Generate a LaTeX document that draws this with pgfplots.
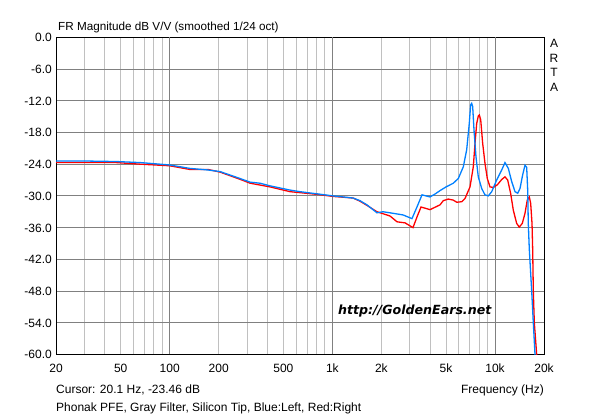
\documentclass[border=0pt]{standalone}
\usepackage{fontspec}
\setmainfont{Liberation Sans}
\newfontfamily\wmfont{DejaVu Sans}
\usepackage{pgfplots}
\usepackage{pgfplotstable}
\pgfplotsset{compat=1.18}
\definecolor{gridlight}{RGB}{192,192,192}
\definecolor{griddark}{RGB}{128,128,128}
\definecolor{artablue}{RGB}{0,128,255}
\definecolor{artared}{RGB}{255,0,0}

\pgfplotstableread{
f dB
20 -23.4
30 -23.4
47 -23.5
66 -23.7
100 -24.15
133 -24.8
172 -25.1
204 -25.4
270 -26.7
312 -27.4
359 -27.6
414 -28.1
549 -28.9
632 -29.2
800 -29.6
1009 -30.0
1339 -30.4
1478 -30.9
1633 -31.7
1880 -33.2
2048 -33.0
2261 -33.2
2718 -33.6
3086 -34.3
3312 -32.1
3557 -29.8
3982 -30.2
4300 -29.6
4589 -29.0
5000 -28.3
5539 -27.6
5949 -26.7
6381 -24.5
6693 -21.3
6944 -16.3
7080 -12.8
7184 -12.5
7287 -13.1
7424 -17.5
7638 -22.6
7890 -26.4
8280 -28.6
8670 -29.8
9090 -30.0
9540 -29.2
10230 -27.0
10990 -25.1
11510 -23.7
12070 -24.8
12660 -27.3
13270 -29.2
13780 -29.5
14240 -28.6
14790 -26.0
15280 -24.2
15650 -24.6
15880 -28.9
16010 -35.2
16250 -40.2
16800 -48
17190 -54
17610 -60
17700 -61
}\leftch

\pgfplotstableread{
f dB
20 -23.7
47 -23.7
66 -24.0
100 -24.3
133 -25.0
172 -25.0
204 -25.5
270 -26.85
312 -27.6
414 -28.3
549 -29.2
800 -29.7
1009 -30.1
1339 -30.4
1478 -31.0
1633 -31.8
1880 -33.0
2261 -33.8
2497 -34.9
2796 -35.1
3130 -36.0
3312 -34.0
3507 -32.1
3982 -32.6
4589 -31.7
4808 -30.9
5160 -30.6
5539 -30.8
5814 -31.2
6238 -31.1
6537 -30.5
7015 -28.3
7352 -24.5
7531 -20.1
7714 -16.3
7890 -14.9
8004 -14.7
8164 -15.6
8397 -20.1
8670 -23.8
8962 -26.7
9311 -28.3
9757 -28.4
10330 -27.9
10990 -26.9
11510 -26.4
11960 -27.0
12470 -29.5
12950 -32.7
13580 -35.2
14090 -35.9
14710 -35.2
15280 -33.3
15780 -30.8
16250 -30.2
16560 -31.4
16880 -35.2
17040 -40.2
17190 -48
17440 -54
18030 -60
18100 -61
}\rightch

\begin{document}
\fontsize{12}{14}\selectfont
\begin{tikzpicture}[x=1pt,y=1pt]
\path[use as bounding box] (0,0) rectangle (600,419);
\begin{axis}[
  at={(56pt,64.5pt)}, anchor=south west,
  scale only axis, width=488pt, height=317.2pt,
  xmode=log, xmin=20, xmax=20000, ymin=-60, ymax=0,
  xtick={20,50,200,500,2000,5000,20000},
  xticklabels={20,50,200,500,2k,5k,20k},
  minor xtick={30,40,60,70,80,90,300,400,600,700,800,900,3000,4000,6000,7000,8000,9000},
  extra x ticks={100,1000,10000},
  extra x tick labels={100,1k,10k},
  extra x tick style={grid style={griddark, line width=1pt}, every axis x grid/.style={griddark}},
  xmajorgrids, xminorgrids, ymajorgrids,
  grid style={gridlight, line width=1pt},
  every axis y grid/.style={griddark},
  ytick={-60,-54,-48,-42,-36,-30,-24,-18,-12,-6,0},
  yticklabels={-60.0,-54.0,-48.0,-42.0,-36.0,-30.0,-24.0,-18.0,-12.0,-6.0,0.0},
  major tick length=0pt, minor tick length=0pt,
  axis line style={black, line width=1pt},
  xticklabel style={anchor=base, inner sep=0pt, yshift=-18.5pt, font=\fontsize{12}{14}\selectfont},
  yticklabel style={anchor=base east, inner sep=0pt, xshift=-4pt, yshift=-4.5pt, font=\fontsize{12}{14}\selectfont},
  /pgf/number format/assume math mode=true,
  clip=true,
]
\addplot[artared, line width=1.3pt] table[x=f, y=dB] {\rightch};
\addplot[artablue, line width=1.3pt] table[x=f, y=dB] {\leftch};
\node[anchor=base, inner sep=0pt, font=\wmfont\bfseries\itshape\fontsize{12.6}{15}\selectfont] at (rel axis cs:0.735,0.127) {http://GoldenEars.net};
\end{axis}
\node[anchor=base west, inner sep=0pt, font=\fontsize{11.7}{14}\selectfont] at (58,388) {FR Magnitude dB V/V (smoothed 1/24 oct)};
\node[anchor=base west, inner sep=0pt] at (56,25) {Cursor: 20.1 Hz, -23.46 dB};
\node[anchor=base east, inner sep=0pt] at (544,25) {Frequency (Hz)};
\node[anchor=base west, inner sep=0pt] at (56,7) {Phonak PFE, Gray Filter, Silicon Tip, Blue:Left, Red:Right};
\node[anchor=base, inner sep=0pt] at (554,371) {A};
\node[anchor=base, inner sep=0pt] at (554,356) {R};
\node[anchor=base, inner sep=0pt] at (554,342) {T};
\node[anchor=base, inner sep=0pt] at (554,327) {A};
\end{tikzpicture}
\end{document}
